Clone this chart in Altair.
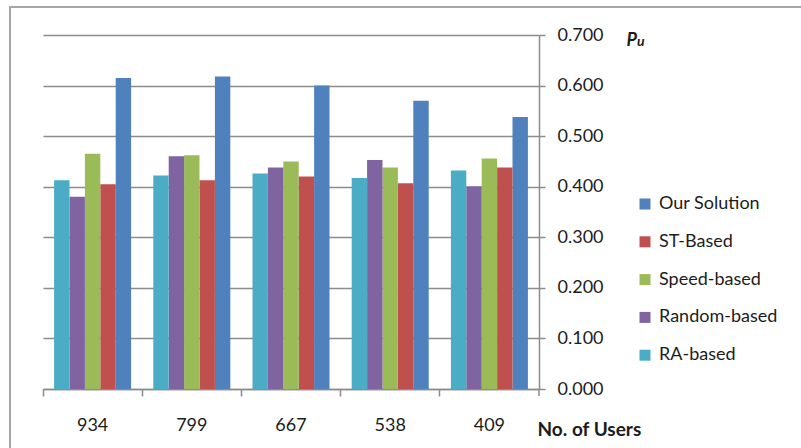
import altair as alt
import pandas as pd

# Number of users per scenario (x categories)
users = ["934", "799", "667", "538", "409"]

# P_u per method
our_solution = [0.615, 0.618, 0.600, 0.570, 0.538]
st_based = [0.405, 0.413, 0.420, 0.407, 0.438]
speed_based = [0.465, 0.462, 0.450, 0.438, 0.456]
random_based = [0.380, 0.460, 0.438, 0.453, 0.401]
ra_based = [0.413, 0.422, 0.426, 0.417, 0.432]

legend_order = ["Our Solution", "ST-Based", "Speed-based", "Random-based", "RA-based"]
bar_order = ["RA-based", "Random-based", "Speed-based", "ST-Based", "Our Solution"]
colors = ["#4F81BD", "#C0504D", "#9BBB59", "#8064A2", "#4BACC6"]

series = {
    "Our Solution": our_solution,
    "ST-Based": st_based,
    "Speed-based": speed_based,
    "Random-based": random_based,
    "RA-based": ra_based,
}
rows = []
for name, vals in series.items():
    for u, v in zip(users, vals):
        rows.append({"users": u, "series": name, "value": v})
df = pd.DataFrame(rows)

FONT = "Lato"
TEXT = "#1c1c1c"
GRID = "#8c8c8c"

W, H = 496, 354

bars = alt.Chart(df).mark_bar().encode(
    x=alt.X(
        "users:N",
        sort=users,
        scale=alt.Scale(paddingInner=0, paddingOuter=0),
        axis=alt.Axis(
            title="No. of Users",
            titleX=494,
            titleY=46,
            titleAlign="left",
            titleBaseline="alphabetic",
            titleAnchor="start",
            titleFont=FONT,
            titleFontSize=19,
            titleFontWeight="bold",
            titleColor=TEXT,
            bandPosition=0,
            labelAngle=0,
            labelFont=FONT,
            labelFontSize=18,
            labelColor=TEXT,
            labelPadding=20,
            domainColor=GRID,
            domainWidth=1.5,
            tickColor=GRID,
            tickWidth=1.5,
            tickSize=7,
            grid=False,
        ),
    ),
    xOffset=alt.XOffset(
        "series:N",
        sort=bar_order,
        scale=alt.Scale(paddingInner=0, paddingOuter=0.72),
    ),
    y=alt.Y(
        "value:Q",
        scale=alt.Scale(domain=[0, 0.7], nice=False),
        axis=alt.Axis(
            orient="right",
            title="P",
            titleAngle=0,
            titleX=87,
            titleY=10,
            titleAlign="left",
            titleBaseline="alphabetic",
            titleFont=FONT,
            titleFontSize=18,
            titleFontStyle="italic",
            titleFontWeight="bold",
            titleColor=TEXT,
            values=[0, 0.1, 0.2, 0.3, 0.4, 0.5, 0.6, 0.7],
            format=".3f",
            labelFont=FONT,
            labelFontSize=18,
            labelColor=TEXT,
            labelPadding=12,
            domainColor=GRID,
            domainWidth=1.5,
            tickColor=GRID,
            tickWidth=1.5,
            tickSize=6,
            grid=True,
            gridColor=GRID,
            gridWidth=1.5,
        ),
    ),
    color=alt.Color(
        "series:N",
        scale=alt.Scale(domain=legend_order, range=colors),
        legend=alt.Legend(
            title=None,
            orient="none",
            legendX=593,
            legendY=160,
            symbolType="square",
            symbolSize=121,
            symbolStrokeWidth=0,
            labelFont=FONT,
            labelFontSize=18,
            labelColor=TEXT,
            labelOffset=5,
            rowPadding=19.8,
        ),
    ),
)

one = pd.DataFrame({"t": ["u"]})

# subscript of the P_u axis label
sub_u = alt.Chart(one).mark_text(
    font=FONT, fontSize=14, fontStyle="italic", fontWeight="bold",
    color=TEXT, align="left", baseline="alphabetic",
).encode(text="t:N", x=alt.value(594), y=alt.value(11))

# closing tick at the right end of the category axis
end_tick = alt.Chart(one).mark_rule(color=GRID, strokeWidth=1.5).encode(
    x=alt.value(W), y=alt.value(H), y2=alt.value(H + 7)
)

# chart frame
frame = alt.Chart(one).mark_rect(
    filled=False, stroke="#a6a6a6", strokeWidth=2
).encode(
    x=alt.value(-33), x2=alt.value(W + 300),
    y=alt.value(-28), y2=alt.value(H + 100),
)

chart = alt.layer(frame, bars, sub_u, end_tick).properties(
    width=W,
    height=H,
    padding={"left": 43, "top": 35, "right": 262, "bottom": 59},
    autosize=alt.AutoSizeParams(type="none"),
    background="white",
).configure_view(stroke=None)

chart.save("out.html", embed_options={"renderer": "svg", "actions": False})
